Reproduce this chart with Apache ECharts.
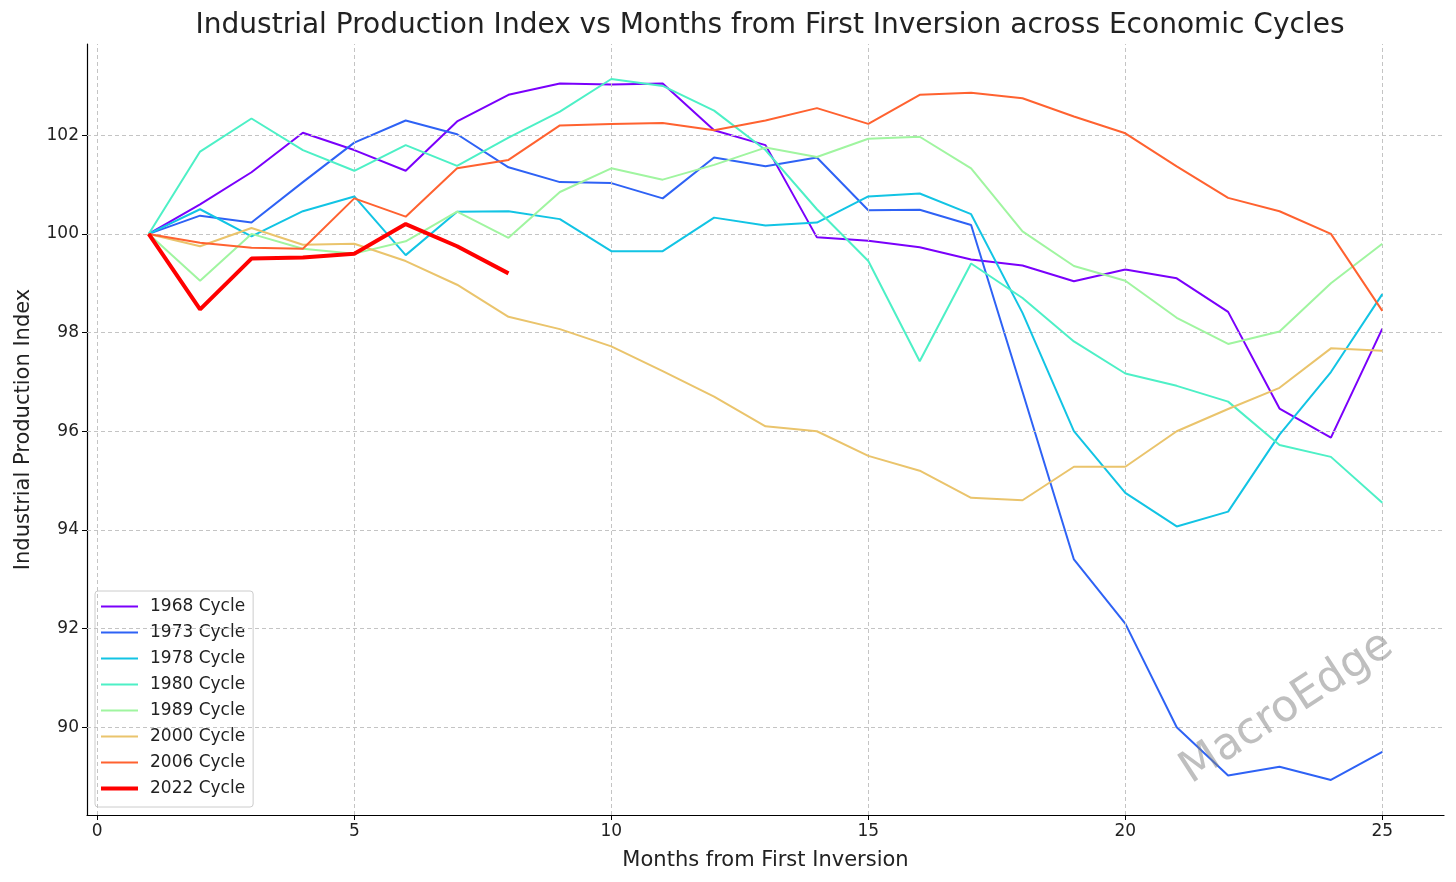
<!DOCTYPE html>
<html>
<head>
<meta charset="utf-8">
<script src="https://cdn.jsdelivr.net/npm/echarts@6/dist/echarts.min.js"></script>
<style>html,body{margin:0;padding:0;background:#fff}#c{width:1456px;height:882px}</style>
</head>
<body>
<div id="c"></div>
<script>
const months = [1,2,3,4,5,6,7,8,9,10,11,12,13,14,15,16,17,18,19,20,21,22,23,24,25];
const cycleNames = ['1968 Cycle','1973 Cycle','1978 Cycle','1980 Cycle','1989 Cycle','2000 Cycle','2006 Cycle','2022 Cycle'];
const cycleColors = ['#7a00fb','#2e62f5','#12c4e4','#4df0c6','#a0f5a0','#eac46c','#ff6230','#ff0000'];
const c1968 = [100,100.6,101.25,102.05,101.7,101.28,102.28,102.82,103.05,103.03,103.05,102.1,101.8,99.93,99.86,99.73,99.48,99.36,99.04,99.28,99.1,98.42,96.46,95.87,98.08];
const c1973 = [100,100.37,100.23,101.05,101.85,102.3,102.02,101.35,101.05,101.03,100.72,101.55,101.37,101.55,100.48,100.49,100.18,96.8,93.4,92.1,90.0,89.02,89.2,88.93,89.5];
const c1978 = [100,100.5,99.95,100.46,100.76,99.57,100.45,100.46,100.3,99.65,99.65,100.33,100.17,100.23,100.76,100.82,100.4,98.4,96.0,94.75,94.07,94.37,95.93,97.2,98.78];
const c1980 = [100,101.67,102.34,101.7,101.28,101.8,101.38,101.95,102.48,103.14,103.0,102.5,101.7,100.5,99.45,97.42,99.4,98.7,97.82,97.17,96.92,96.6,95.72,95.48,94.55];
const c1989 = [100,99.05,100.0,99.7,99.6,99.85,100.45,99.92,100.85,101.33,101.1,101.4,101.75,101.56,101.93,101.97,101.33,100.05,99.35,99.05,98.3,97.77,98.02,99.0,99.8];
const c2000 = [100,99.75,100.12,99.78,99.8,99.45,98.97,98.32,98.07,97.72,97.22,96.7,96.1,96.0,95.5,95.2,94.65,94.6,95.28,95.28,96.0,96.45,96.88,97.68,97.63];
const c2006 = [100,99.82,99.72,99.7,100.72,100.35,101.33,101.5,102.2,102.23,102.25,102.1,102.3,102.55,102.23,102.82,102.86,102.75,102.38,102.04,101.37,100.73,100.46,100.0,98.44];
const c2022 = [100,98.47,99.5,99.52,99.6,100.2,99.75,99.2];
const xTicks = [0,5,10,15,20,25];
const yTicks = [90,92,94,96,98,100,102];

const allData = [c1968,c1973,c1978,c1980,c1989,c2000,c2006,c2022];
const FONT = 'DejaVu Sans';

const series = allData.map((arr, i) => ({
  name: cycleNames[i],
  type: 'line',
  data: arr.map((v, j) => [months[j], v]),
  showSymbol: false,
  symbol: 'none',
  z: 3 + i,
  lineStyle: { color: cycleColors[i], width: i === 7 ? 4 : 2 },
  itemStyle: { color: cycleColors[i] },
  emphasis: { disabled: true },
  animation: false
}));

series.push({
  type: 'line',
  data: [],
  silent: true,
  z: 1,
  animation: false,
  markLine: {
    symbol: 'none',
    silent: true,
    label: { show: false },
    animation: false,
    lineStyle: { color: '#c4c4c4', type: [4, 3], width: 1 },
    emphasis: { disabled: true },
    data: xTicks.map(v => ({ xAxis: v })).concat(yTicks.map(v => ({ yAxis: v })))
  }
});

// legend icons: thin line for normal cycles, thick line for 2022
const thinIcon = 'path://M0,0h0.01v0.01h-0.01z M0,5h37v2h-37z M36.99,11.99h0.01v0.01h-0.01z';
const thickIcon = 'path://M0,0h0.01v0.01h-0.01z M0,4h37v4h-37z M36.99,11.99h0.01v0.01h-0.01z';
const legendData = cycleNames.map((n, i) => ({ name: n, icon: i === 7 ? thickIcon : thinIcon }));

const chart = echarts.init(document.getElementById('c'), null, { renderer: 'canvas' });
chart.setOption({
  backgroundColor: '#ffffff',
  animation: false,
  textStyle: { fontFamily: FONT },
  title: {
    text: 'Industrial Production Index vs Months from First Inversion across Economic Cycles',
    left: 765, top: 7, textAlign: 'center',
    textStyle: { fontFamily: FONT, fontSize: 28, fontWeight: 'normal', color: '#222' }
  },
  grid: { left: 87, right: 12, top: 44, bottom: 67, containLabel: false, outerBoundsMode: 'none' },
  xAxis: {
    type: 'value', min: -0.2, max: 26.2,
    name: 'Months from First Inversion', nameLocation: 'middle', nameGap: 35,
    nameTextStyle: { fontFamily: FONT, fontSize: 21, color: '#222' },
    axisLine: { show: true, onZero: false, lineStyle: { color: '#000', width: 1.2 } },
    axisTick: { show: true, customValues: xTicks, length: 5, inside: false, lineStyle: { color: '#000' } },
    axisLabel: { customValues: xTicks, fontFamily: FONT, fontSize: 17, color: '#222', margin: 8 },
    splitLine: { show: false }
  },
  yAxis: {
    type: 'value', min: 88.22, max: 103.85,
    name: 'Industrial Production Index', nameLocation: 'middle', nameGap: 53, nameRotate: 90,
    nameTextStyle: { fontFamily: FONT, fontSize: 21, color: '#222' },
    axisLine: { show: true, onZero: false, lineStyle: { color: '#000', width: 1.2 } },
    axisTick: { show: true, customValues: yTicks, length: 5, inside: false, lineStyle: { color: '#000' } },
    axisLabel: { customValues: yTicks, fontFamily: FONT, fontSize: 17, color: '#222', margin: 8 },
    splitLine: { show: false }
  },
  legend: {
    data: legendData,
    orient: 'vertical',
    left: 95, top: 591,
    itemWidth: 37, itemHeight: 12, itemGap: 9,
    padding: [7, 8, 10, 6],
    backgroundColor: 'rgba(255,255,255,0.85)',
    borderColor: '#cccccc', borderWidth: 1, borderRadius: 3,
    textStyle: { fontFamily: FONT, fontSize: 17, color: '#222', padding: [0, 0, 0, 7] },
    selectedMode: false
  },
  graphic: [{
    type: 'text',
    x: 1287, y: 708,
    rotation: 0.575,
    z: 100,
    silent: true,
    style: {
      text: 'MacroEdge',
      fill: 'rgba(128,128,128,0.5)',
      font: '44px "DejaVu Sans"',
      align: 'center',
      verticalAlign: 'middle'
    }
  }],
  series: series
});
</script>
</body>
</html>
